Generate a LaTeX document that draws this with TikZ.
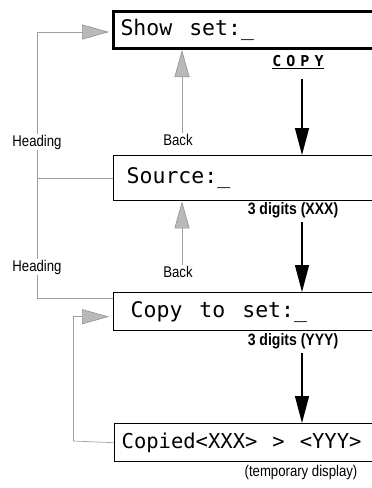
\documentclass[tikz,border=0pt]{standalone}
\usepackage{fontspec}
\setmainfont{Liberation Sans}
\newfontfamily\cond[FakeStretch=0.85]{Liberation Sans}
\newfontfamily\lcd{DejaVu Sans Mono}
\usetikzlibrary{arrows.meta}
\newcommand{\gapc}{\hspace{5pt}}
\newcommand{\wsp}{\hspace{17pt}}
\newcommand{\nsp}{\hspace{15pt}}
\tikzset{
  screen/.style={draw, line width=1.4pt, anchor=north west, text width=300pt, align=left,
    font=\lcd\fontsize{21.5}{23}\selectfont},
  lbl/.style={font=\cond\fontsize{15.5}{17}\selectfont, inner sep=1pt},
  blbl/.style={font=\cond\bfseries\fontsize{16.5}{18}\selectfont, inner sep=1pt},
  conn/.style={draw=gray!75, line width=0.7pt},
  garrow/.style={-{Triangle[length=27pt,width=15pt,fill=gray!55,color=gray!85,line width=0.6pt]}},
  darrow/.style={draw=black, line width=1.3pt, -{Triangle[length=27pt,width=14pt]}},
}
\begin{document}
\begin{tikzpicture}[x=1pt,y=-1pt]
\clip (0,0) rectangle (372,488);
% screens
\node[screen, line width=3pt, minimum height=37pt, inner xsep=7pt] (s1) at (112,10) {Show\wsp set:\_};
\node[screen, minimum height=45pt, inner xsep=13pt] (s2) at (113,155) {Source:\_};
\node[screen, minimum height=38pt, inner xsep=17pt] (s3) at (113,292) {Copy\wsp to\wsp set:\_};
\node[screen, minimum height=38pt, inner xsep=7pt, font=\lcd\fontsize{20.5}{22}\selectfont] (s4) at (114,423) {Copied<XXX>\nsp >\nsp <YYY>};
% labels
\node[font=\lcd\bfseries\fontsize{15}{17}\selectfont, inner sep=1pt] (cp) at (298,62) {\underline{C\gapc O\gapc P\gapc Y}};
\node[lbl] (hd1) at (37,142) {Heading};
\node[lbl] (hd2) at (37,267) {Heading};
\node[lbl] (bk1) at (178,140) {Back};
\node[lbl] (bk2) at (178,272) {Back};
\node[blbl] (d1) at (293,210) {3 digits (XXX)};
\node[blbl] (d2) at (293,341) {3 digits (YYY)};
\node[lbl] (tmp) at (301,472) {(temporary display)};
% left connectors
\draw[conn] (s2.west) -| (hd1.south);
\draw[conn, garrow, shorten >=3pt] (hd1.north) |- ([yshift=-2pt]s1.west);
\draw[conn] ([yshift=-6pt]s3.north west) -| (hd2.south);
\draw[conn] (hd2.north) -- (hd1.south);
\coordinate (lp) at (73,441);
\draw[conn] (s4.west) -- (lp);
\draw[conn, garrow, shorten >=4pt] (lp) |- ([yshift=-5pt]s3.west);
% back arrows
\draw[conn, garrow] ([xshift=4pt]bk1.north) -- ([xshift=4pt]bk1.north |- s1.south);
\draw[conn, garrow] ([xshift=4pt]bk2.north) -- ([xshift=4pt]bk2.north |- s2.south);
% forward arrows
\draw[darrow] ([xshift=4pt,yshift=-9pt]cp.south) -- ([xshift=4pt]cp.south |- s2.north);
\draw[darrow] ([xshift=9pt,yshift=-3pt]d1.south) -- ([xshift=9pt]d1.south |- s3.north);
\draw[darrow] ([xshift=9pt,yshift=-3pt]d2.south) -- ([xshift=9pt]d2.south |- s4.north);
\end{tikzpicture}
\end{document}
